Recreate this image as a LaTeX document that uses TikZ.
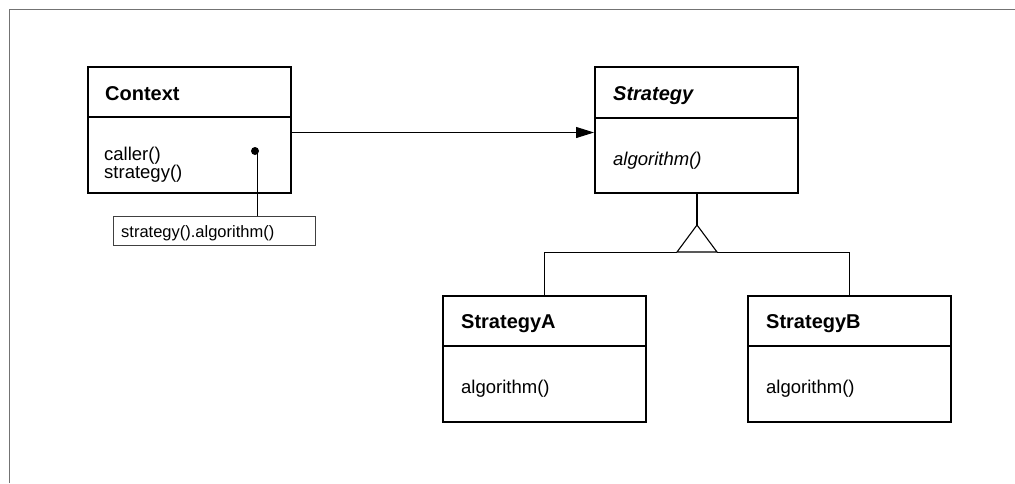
\documentclass[tikz,border=0pt]{standalone}
\usepackage{fontspec}
\setmainfont{Liberation Sans}
\usetikzlibrary{arrows.meta}
\begin{document}
\begin{tikzpicture}[x=1pt,y=-1pt,
  clsbox/.style={draw=black, line width=2pt, minimum width=203pt, minimum height=126pt, inner sep=0pt},
  divider/.style={line width=1.4pt},
  ttl/.style={anchor=base west, inner sep=0pt, font=\fontsize{20}{22}\selectfont\bfseries},
  ttlit/.style={anchor=base west, inner sep=0pt, font=\fontsize{20}{22}\selectfont\bfseries\itshape},
  meth/.style={anchor=base west, inner sep=0pt, font=\fontsize{18.5}{18}\selectfont},
  methit/.style={anchor=base west, inner sep=0pt, font=\fontsize{18.5}{18}\selectfont\itshape},
  conn/.style={line width=1pt},
  notebox/.style={draw=black!75, line width=0.9pt, minimum width=202pt, minimum height=29pt, inner sep=0pt},
  notetxt/.style={anchor=base west, inner sep=0pt, font=\fontsize{16.5}{18}\selectfont}
]
\useasboundingbox (0,0) rectangle (1015,483);
% outer frame
\draw[draw=black!55, line width=1.6pt] (9.5,483) -- (9.5,9.5) -- (1015,9.5);

% Context
\node[clsbox] (ctx) at (189,130) {};
\draw[divider] (87,117) -- (291,117);
\node[ttl] (ctxt) at (105,100) {Context};
\node[meth, align=left, font=\fontsize{18.5}{16.5}\selectfont] (ctxm) at (104,178.5) {caller()\\strategy()};

% Strategy
\node[clsbox] (str) at (696.5,130) {};
\draw[divider] (595,118) -- (798,118);
\node[ttlit] (strt) at (613,100) {Strategy};
\node[methit] (strm) at (613,165) {algorithm()};

% StrategyA
\node[clsbox] (sa) at (544.5,359) {};
\draw[divider] (443,346) -- (646,346);
\node[ttl] (sat) at (461,328) {StrategyA};
\node[meth] (sam) at (461,393) {algorithm()};

% StrategyB
\node[clsbox] (sb) at (849.5,359) {};
\draw[divider] (748,346) -- (951,346);
\node[ttl] (sbt) at (766,328) {StrategyB};
\node[meth] (sbm) at (766,393) {algorithm()};

% association arrow
\draw[conn, -{Triangle[length=18pt,width=11pt]}] (ctx.east |- 0,132.5) -- (str.west |- 0,132.5);

% note
\node[notebox] (note) at (214,230.5) {};
\node[notetxt] (notet) at (121,237) {strategy().algorithm()};
\node[circle, fill=black, inner sep=0pt, minimum size=8pt] (dot) at (255,151) {};
\draw[conn] (257,151) -- (note.north -| 257,0);

% inheritance
\coordinate (apex) at (697,225);
\coordinate (bl) at (677,252);
\coordinate (br) at (717,252);
\draw[line width=2pt] (str.south -| apex) -- (apex);
\draw[line width=1.1pt, line join=miter] (apex) -- (bl) -- (br) -- cycle;
\draw[conn] (bl) -- (544.5,252) -- (sa.north);
\draw[conn] (br) -- (849.5,252) -- (sb.north);
\end{tikzpicture}
\end{document}
